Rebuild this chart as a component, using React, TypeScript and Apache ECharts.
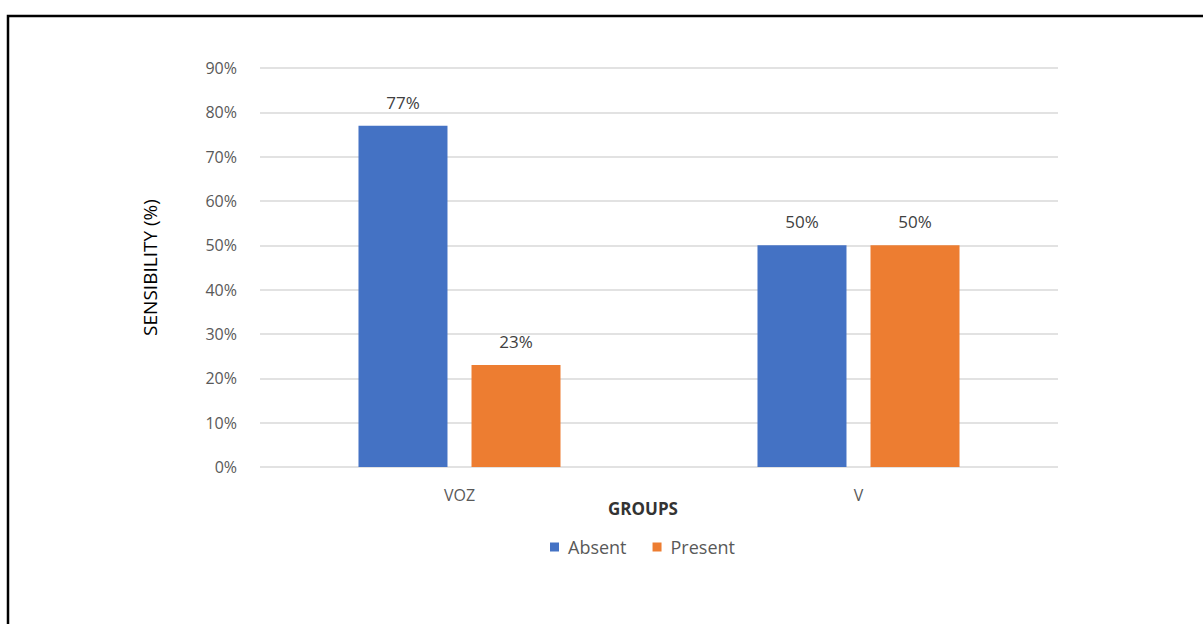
import React, { useEffect, useRef } from "react";
import * as echarts from "echarts";

const groups = ["VOZ", "V"];
const absent = [77, 50];
const present = [23, 50];
const seriesNames = ["Absent", "Present"];
const yTicks = { min: 0, max: 90, interval: 10 };

const FONT = "'Open Sans', 'Noto Sans', sans-serif";

export default function App() {
  const ref = useRef<HTMLDivElement>(null);

  useEffect(() => {
    if (!ref.current) return;
    const chart = echarts.init(ref.current, null, { renderer: "svg" });
    const label = {
      show: true,
      position: "top",
      distance: 15,
      formatter: "{c}%",
      color: "#404040",
      fontSize: 17,
      fontFamily: FONT,
    };
    chart.setOption({
      animation: false,
      backgroundColor: "#ffffff",
      textStyle: { fontFamily: FONT },
      graphic: [
        {
          type: "rect",
          shape: { x: 8, y: 16, width: 1220, height: 640 },
          style: { fill: "none", stroke: "#000000", lineWidth: 2.5 },
          silent: true,
        },
      ],
      grid: { left: 260, right: 145, top: 68, bottom: 157 },
      legend: {
        data: seriesNames,
        left: 545,
        top: 533,
        itemWidth: 9,
        itemHeight: 9,
        itemGap: 26,
        icon: "rect",
        textStyle: { color: "#595959", fontSize: 18, fontFamily: FONT, padding: [0, 0, 0, 4] },
      },
      xAxis: {
        type: "category",
        data: groups,
        name: "GROUPS",
        nameLocation: "middle",
        nameGap: 33,
        nameMoveOverlap: false,
        nameTextStyle: {
          color: "#333333",
          fontSize: 17,
          fontWeight: "bold",
          fontFamily: FONT,
          padding: [0, 32, 0, 0],
        },
        axisLine: { show: false },
        axisTick: { show: false },
        axisLabel: { color: "#595959", fontSize: 16, margin: 20, fontFamily: FONT },
      },
      yAxis: {
        type: "value",
        min: yTicks.min,
        max: yTicks.max,
        interval: yTicks.interval,
        name: "SENSIBILITY (%)",
        nameLocation: "middle",
        nameGap: 101,
        nameMoveOverlap: false,
        nameTextStyle: { color: "#000000", fontSize: 19, fontFamily: FONT },
        axisLabel: {
          formatter: "{value}%",
          color: "#595959",
          fontSize: 16,
          margin: 23,
          fontFamily: FONT,
        },
        splitLine: { lineStyle: { color: "#d9d9d9", width: 1.5 } },
      },
      series: [
        {
          name: seriesNames[0],
          type: "bar",
          data: absent,
          barWidth: 89,
          barGap: "27%",
          itemStyle: { color: "#4472C4" },
          label,
        },
        {
          name: seriesNames[1],
          type: "bar",
          data: present,
          barWidth: 89,
          itemStyle: { color: "#ED7D31" },
          label,
        },
      ],
    });
    return () => chart.dispose();
  }, []);

  return (
    <div
      ref={ref}
      style={{ position: "absolute", left: 0, top: 0, width: 1203, height: 624 }}
    />
  );
}
